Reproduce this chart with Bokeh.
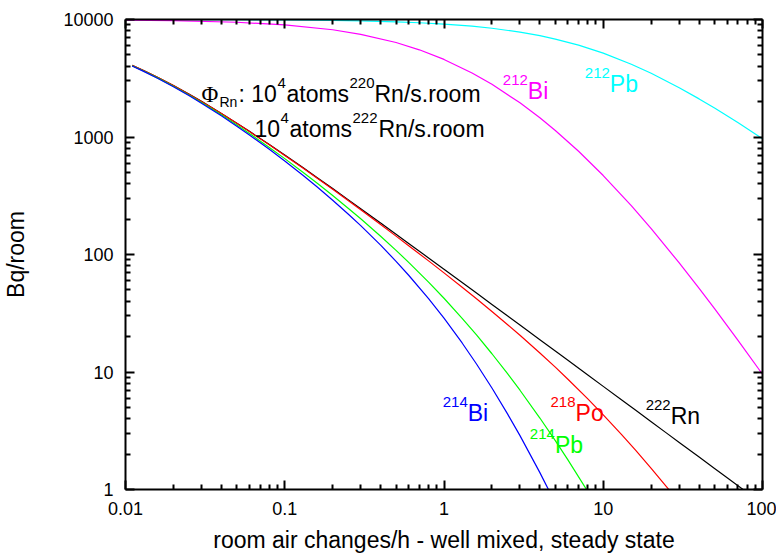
from bokeh.plotting import figure
from bokeh.models import LogAxis, FixedTicker, CustomJSTickFormatter
from bokeh.core.properties import value
from bokeh.embed import file_html
from bokeh.resources import INLINE

# ---------------- data ----------------
x_rn = [0.011, 0.013, 0.016, 0.02, 0.025, 0.03, 0.04, 0.05, 0.06, 0.08, 0.1, 0.13, 0.16,
        0.2, 0.25, 0.3, 0.4, 0.5, 0.6, 0.8, 1, 1.3, 1.6, 2, 2.5, 3, 4, 5, 6, 8, 10, 13,
        16, 20, 25, 30, 40, 50, 60, 80, 100]
rn222 = [4070, 3674, 3206, 2740, 2319, 2011, 1588, 1312, 1118, 862.4, 702.0, 548.9, 450.6,
         363.8, 293.1, 245.5, 185.3, 148.8, 124.3, 93.49, 74.93, 57.74, 46.97, 37.61, 30.11,
         25.10, 18.84, 15.08, 12.57, 9.429, 7.544, 5.804, 4.717, 3.774, 3.019, 2.516, 1.887,
         1.510, 1.258, 0.9437, 0.7549]
po218 = [4067, 3670, 3202, 2736, 2315, 2006, 1583, 1307, 1113, 857.3, 696.8, 543.6, 445.3,
         358.5, 287.8, 240.1, 179.9, 143.4, 118.9, 88.23, 69.74, 52.64, 41.97, 32.73, 25.38,
         20.52, 14.51, 10.99, 8.684, 5.907, 4.323, 2.948, 2.152, 1.515, 1.055, 0.778]
pb214 = [4038, 3640, 3169, 2701, 2278, 1969, 1543, 1266, 1071, 815.3, 654.6, 501.6, 403.7,
         317.6, 247.9, 201.2, 143.1, 108.5, 85.8, 58.22, 42.41, 28.65, 20.66, 14.30, 9.721,
         6.996, 4.057, 2.603, 1.785, 0.960, 0.581]
bi214 = [4017, 3617, 3145, 2676, 2251, 1941, 1514, 1237, 1041, 785.2, 624.7, 472.2, 375.0,
         289.9, 221.4, 175.9, 120.1, 87.5, 66.6, 42.10, 28.69, 17.66, 11.70, 7.308, 4.426,
         2.873, 1.392, 0.767, 0.461]

x_tn = [0.01, 0.02, 0.05, 0.1, 0.2, 0.3, 0.5, 0.7, 1, 1.5, 2, 3, 4, 5, 7, 10, 15, 20, 30,
        40, 50, 70, 100]
pb212 = [9991, 9981, 9953, 9907, 9817, 9727, 9554, 9386, 9145, 8770, 8425, 7810, 7279, 6815,
         6045, 5169, 4163, 3485, 2629, 2110, 1763, 1326, 967]
bi212 = [9892, 9785, 9479, 9006, 8181, 7482, 6369, 5521, 4573, 3508, 2808, 1953, 1456, 1136,
         755.6, 469.9, 260.2, 166.0, 84.8, 51.5, 34.6, 18.7, 9.57]

x_major = [0.01, 0.1, 1, 10, 100]
y_major = [1, 10, 100, 1000, 10000]
x_title = "room air changes/h - well mixed, steady state"
y_title = "Bq/room"

# ---------------- figure ----------------
FONT = "Liberation Sans"
p = figure(width=776, height=557, x_axis_type="log", y_axis_type="log",
           x_range=(0.01, 100), y_range=(1, 10000),
           output_backend="svg", toolbar_location=None,
           min_border_left=124, min_border_right=14, min_border_top=19, min_border_bottom=68)
p.outline_line_color = None
p.xgrid.visible = False
p.ygrid.visible = False
p.background_fill_color = "white"
p.border_fill_color = "white"

x_minor = [m * 10.0 ** e for e in range(-2, 2) for m in range(2, 10)]
y_minor = [m * 10.0 ** e for e in range(0, 4) for m in range(2, 10)]

fmt = CustomJSTickFormatter(code="return tick.toString();")
blank = CustomJSTickFormatter(code="return '';")


def style(ax, ticks, minors, formatter, standoff):
    ax.ticker = FixedTicker(ticks=ticks, minor_ticks=minors)
    ax.formatter = formatter
    ax.axis_line_width = 2
    ax.axis_line_color = "black"
    ax.major_tick_in = 9
    ax.major_tick_out = 0
    ax.minor_tick_in = 5
    ax.minor_tick_out = 0
    ax.major_tick_line_width = 2
    ax.minor_tick_line_width = 2
    ax.major_tick_line_color = "black"
    ax.minor_tick_line_color = "black"
    ax.major_label_text_font = FONT
    ax.major_label_text_font_size = "18px"
    ax.major_label_text_color = "black"
    ax.major_label_standoff = standoff


xb = p.below[0]
yl = p.left[0]
style(xb, x_major, x_minor, fmt, 12)
style(yl, y_major, y_minor, fmt, 12)
xb.axis_label = x_title
yl.axis_label = y_title
for ax, st in ((xb, 9), (yl, 31)):
    ax.axis_label_text_font = FONT
    ax.axis_label_text_font_size = "23px"
    ax.axis_label_text_font_style = "normal"
    ax.axis_label_text_color = "black"
    ax.axis_label_standoff = st

xt = LogAxis()
style(xt, x_major, x_minor, blank, 0)
xt.major_label_text_font_size = "0px"
p.add_layout(xt, "above")
yr = LogAxis()
style(yr, y_major, y_minor, blank, 0)
yr.major_label_text_font_size = "0px"
p.add_layout(yr, "right")

# ---------------- curves ----------------
p.line(x_tn, pb212, line_color="#00FFFF", line_width=1.2)
p.line(x_tn, bi212, line_color="#FF00FF", line_width=1.2)
p.line(x_rn, rn222, line_color="#000000", line_width=1.2)
p.line(x_rn[:len(po218)], po218, line_color="#FF0000", line_width=1.2)
p.line(x_rn[:len(pb214)], pb214, line_color="#00FF00", line_width=1.2)
p.line(x_rn[:len(bi214)], bi214, line_color="#0000FF", line_width=1.2)


# ---------------- texts ----------------
def txt(x, y, s, size, color, dx=0, dy=0, font=FONT, align="left"):
    p.text(x=[x], y=[y], text=[s], text_font=value(font), text_font_size=value(f"{size}px"),
           text_color=color, x_offset=dx, y_offset=dy, text_align=align,
           text_baseline="alphabetic")


def nuclide(x, y, mass, name, color):
    txt(x, y, mass, 15, color, dx=0, dy=-11, align="right")
    txt(x, y, name, 23, color)


nuclide(3.36, 2440, "212", "Bi", "#FF00FF")
nuclide(11.0, 2800, "212", "Pb", "#00FFFF")
nuclide(26.5, 4.26, "222", "Rn", "#000000")
nuclide(6.7, 4.5, "218", "Po", "#FF0000")
nuclide(4.97, 2.37, "214", "Pb", "#00FF00")
nuclide(1.41, 4.5, "214", "Bi", "#0000FF")

# annotation lines
ax0, ay1, ay2 = 0.03, 2300, 1181
txt(ax0, ay1, "\u03a6", 23, "black", dx=0, font="Liberation Serif")
txt(ax0, ay1, "Rn", 14, "black", dx=18, dy=8)
txt(ax0, ay1, ": 10", 23, "black", dx=37)
txt(ax0, ay1, "4", 15, "black", dx=76, dy=-11)
txt(ax0, ay1, "atoms", 23, "black", dx=85)
txt(ax0, ay1, "220", 15, "black", dx=148, dy=-11)
txt(ax0, ay1, "Rn/s.room", 23, "black", dx=173)

txt(ax0, ay2, "10", 23, "black", dx=53)
txt(ax0, ay2, "4", 15, "black", dx=79, dy=-11)
txt(ax0, ay2, "atoms", 23, "black", dx=88)
txt(ax0, ay2, "222", 15, "black", dx=151, dy=-11)
txt(ax0, ay2, "Rn/s.room", 23, "black", dx=177)

open("out.html", "w").write(file_html(p, INLINE))
